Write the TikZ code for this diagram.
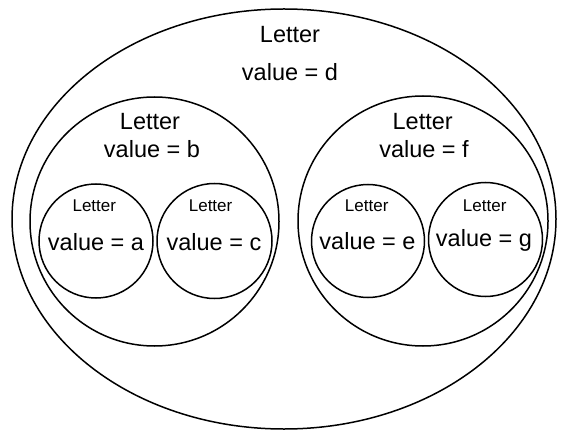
\documentclass[tikz,border=0pt]{standalone}
\usepackage{fontspec}
\setmainfont{Liberation Sans}
\usetikzlibrary{shapes.geometric}
\begin{document}
\begin{tikzpicture}[x=1pt,y=-1pt,
  ring/.style={draw=black,line width=1.5pt},
  big/.style={font=\fontsize{23.5}{26}\selectfont,anchor=base,inner sep=0pt},
  small/.style={font=\fontsize{17}{20}\selectfont,anchor=base,inner sep=0pt}]
\useasboundingbox (0,0) rectangle (564,430);
% outer
\draw[ring] (284,219) ellipse [x radius=272, y radius=210];
\node[ring,circle,minimum size=249pt,inner sep=0pt] (B) at (154.5,221.5) {};
\node[ring,circle,minimum size=250pt,inner sep=0pt] (F) at (423,221) {};
\node[ring,circle,minimum size=114pt,inner sep=0pt] (A) at (96,241) {};
\node[ring,circle,minimum size=115pt,inner sep=0pt] (C) at (214.5,241) {};
\node[ring,circle,minimum size=113pt,inner sep=0pt] (E) at (368,241) {};
\node[ring,circle,minimum size=114pt,inner sep=0pt] (G) at (485.5,239.5) {};
% texts
\node[big] (dl) at (290,42.7) {Letter};
\node[big] (dv) at (290,81) {value = d};
\node[big] (bl) at (150,129.3) {Letter};
\node[big] (bv) at (152,157.3) {value = b};
\node[big] (fl) at (422.7,129.3) {Letter};
\node[big] (fv) at (424,157.3) {value = f};
\node[small] (al) at (94.3,211.7) {Letter};
\node[big] (av) at (96,250) {value = a};
\node[small] (cl) at (210.6,211.7) {Letter};
\node[big] (cv) at (214,250) {value = c};
\node[small] (el) at (366.7,211.7) {Letter};
\node[big] (ev) at (367.5,249.5) {value = e};
\node[small] (gl) at (484.7,211.7) {Letter};
\node[big] (gv) at (484,246) {value = g};
\end{tikzpicture}
\end{document}
